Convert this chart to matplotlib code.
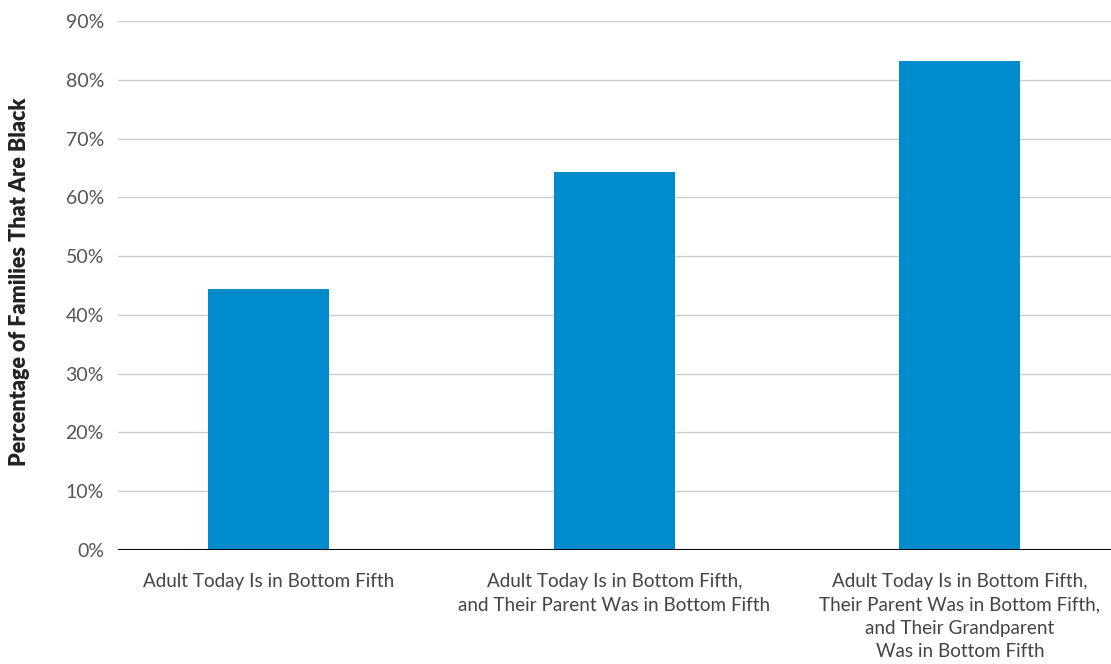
import numpy as np
import matplotlib
matplotlib.use('Agg')
import matplotlib.pyplot as plt
from matplotlib.ticker import MultipleLocator, FuncFormatter

plt.rcParams['font.family'] = ['Lato', 'DejaVu Sans']

# data
categories = ['Adult Today Is in Bottom Fifth',
              'Adult Today Is in Bottom Fifth,\nand Their Parent Was in Bottom Fifth',
              'Adult Today Is in Bottom Fifth,\nTheir Parent Was in Bottom Fifth,\nand Their Grandparent\nWas in Bottom Fifth']
pct_black = [44.4, 64.4, 83.3]

fig = plt.figure(figsize=(11.11, 6.64), dpi=100)
ax = fig.add_axes([0.106, 0.172, 0.894, 0.796])

x = np.arange(len(categories))
ax.bar(x, pct_black, width=0.35, color='#008BCC', zorder=3)

ax.set_xlim(-0.437, 2.437)
ax.set_ylim(0, 90)
ax.yaxis.set_major_locator(MultipleLocator(10))
ax.yaxis.set_major_formatter(FuncFormatter(lambda v, p: '%d%%' % v))
ax.grid(axis='y', color='#cccccc', linewidth=1, zorder=0)
ax.axhline(0, color='black', linewidth=2.2, zorder=4)

ax.set_xticks(x)
ax.set_xticklabels(categories, fontsize=13.6, color='#444444', linespacing=1.45)
for t in ax.get_yticklabels():
    t.set_fontsize(14)
    t.set_color('#555555')
ax.tick_params(axis='both', length=0)
ax.tick_params(axis='x', pad=17)
ax.tick_params(axis='y', pad=10)

for s in ax.spines.values():
    s.set_visible(False)

fig.text(0.018, 0.575, 'Percentage of Families That Are Black', rotation=90,
         ha='center', va='center', fontsize=15.5, fontweight='heavy', color='#222222')

fig.savefig('out.png', dpi=100)
